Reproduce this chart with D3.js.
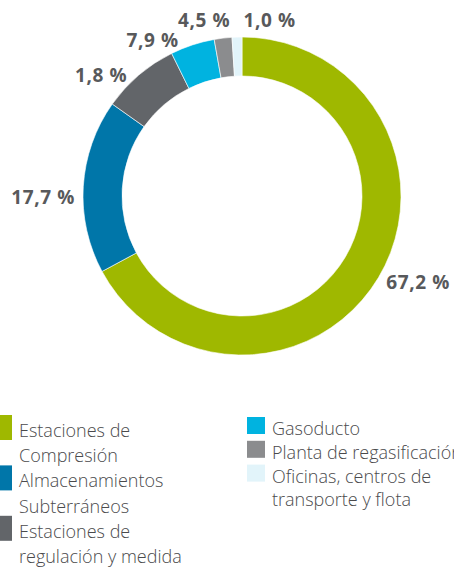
<!DOCTYPE html>
<html>
<head>
<meta charset="utf-8">
<script src="https://cdn.jsdelivr.net/npm/d3@7"></script>
<style>
	html, body { margin: 0; padding: 0; background: #fff; overflow: hidden; }
</style>
</head>
<body>
<script>
const categories = [
	"Estaciones de\nCompresión",
	"Almacenamientos\nSubterráneos",
	"Estaciones de\nregulación y medida",
	"Gasoducto",
	"Planta de regasificación",
	"Oficinas, centros de\ntransporte y flota"
];
const values = [67.2, 17.7, 7.9, 4.5, 1.8, 1.0];
// labels as printed next to each slice in the source
const printedLabels = [67.2, 17.7, 1.8, 7.9, 4.5, 1.0];
const colors = ["#9fb800", "#0076a9", "#626569", "#00b3e0", "#8b8c8e", "#e2f4fa"];

const WIDTH = 454, HEIGHT = 569;
const CENTER = { x: 242, y: 196 };
const OUTER_R = 159, INNER_R = 120;
const LABEL_R = [168, 167, 167, 168, 176, 176];
const LABEL_NUDGE = [0, -4, -3, -4, 3, 2.3]; // degrees

const svg = d3.select("body").append("svg")
	.attr("width", WIDTH)
	.attr("height", HEIGHT);

const pie = d3.pie()
	.value(d => d)
	.sort(null);

const arcs = pie(values);

const arc = d3.arc()
	.innerRadius(INNER_R)
	.outerRadius(OUTER_R);

const donut = svg.append("g")
	.attr("transform", `translate(${CENTER.x},${CENTER.y})`);

donut.selectAll("path")
	.data(arcs)
	.join("path")
	.attr("d", arc)
	.attr("fill", (d, i) => colors[i])
	.attr("stroke", "#fff")
	.attr("stroke-width", 0.6);

const fmt = v => d3.format(".1f")(v).replace(".", ",") + " %";

donut.selectAll("text")
	.data(arcs)
	.join("text")
	.each(function (d, i) {
		const a = (d.startAngle + d.endAngle) / 2 + LABEL_NUDGE[i] * Math.PI / 180;
		const r = LABEL_R[i];
		const x = Math.sin(a) * r;
		const y = -Math.cos(a) * r;
		d3.select(this)
			.attr("x", x)
			.attr("y", y)
			.attr("text-anchor", x >= 0 ? "start" : "end");
	})
	.attr("dominant-baseline", "central")
	.attr("font-family", "'Open Sans', sans-serif")
	.attr("font-weight", 700)
	.attr("font-size", "19px")
	.attr("letter-spacing", "0.6px")
	.attr("fill", "#58595b")
	.text((d, i) => fmt(printedLabels[i]));

// legend, two columns
const legendCols = [
	{ items: [0, 1, 2], x: -6, swatchW: 18, swatchH: 25, swatchUp: 22, lineH: 25.2, top: 437 },
	{ items: [3, 4, 5], x: 247, swatchW: 18, swatchH: 17, swatchUp: 18, lineH: 23.8, top: 435 }
];

legendCols.forEach(col => {
	let baseline = col.top;
	col.items.forEach(i => {
		const lines = categories[i].split("\n");
		svg.append("rect")
			.attr("x", col.x)
			.attr("y", baseline - col.swatchUp)
			.attr("width", col.swatchW)
			.attr("height", col.swatchH)
			.attr("fill", colors[i]);
		const t = svg.append("text")
			.attr("font-family", "'Open Sans', sans-serif")
			.attr("font-weight", 300)
			.attr("font-size", "18px")
			.attr("fill", "#4a4a4c");
		lines.forEach((line, k) => {
			t.append("tspan")
				.attr("x", col.x + col.swatchW + 7)
				.attr("y", baseline + k * col.lineH)
				.text(line);
		});
		baseline += lines.length * col.lineH;
	});
});
</script>
</body>
</html>
